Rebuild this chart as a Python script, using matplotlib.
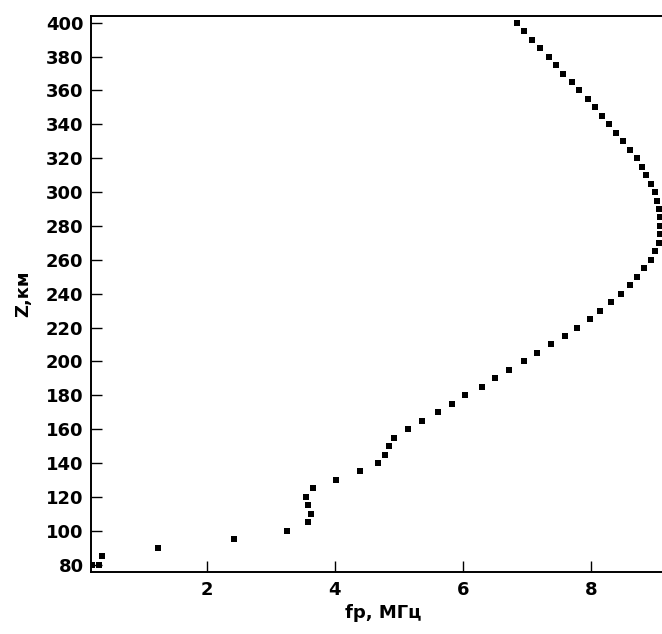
import matplotlib
matplotlib.use("Agg")
import matplotlib.pyplot as plt

# plasma frequency profile, one point every 5 km
heights = [80, 80, 85, 90, 95, 100, 105, 110, 115, 120, 125, 130, 135, 140,
           145, 150, 155, 160, 165, 170, 175, 180, 185, 190, 195, 200, 205,
           210, 215, 220, 225, 230, 235, 240, 245, 250, 255, 260, 265, 270,
           275, 280, 285, 290, 295, 300, 305, 310, 315, 320, 325, 330, 335,
           340, 345, 350, 355, 360, 365, 370, 375, 380, 385, 390, 395, 400]
fp = [0.20, 0.31, 0.37, 1.24, 2.43, 3.26, 3.59, 3.63, 3.59, 3.55, 3.66, 4.02,
      4.39, 4.67, 4.78, 4.85, 4.93, 5.14, 5.36, 5.61, 5.83, 6.04, 6.30, 6.51,
      6.73, 6.95, 7.16, 7.38, 7.60, 7.78, 7.99, 8.14, 8.32, 8.47, 8.61, 8.72,
      8.83, 8.94, 9.01, 9.07, 9.09, 9.09, 9.08, 9.07, 9.04, 9.01, 8.94, 8.86,
      8.80, 8.72, 8.61, 8.51, 8.40, 8.29, 8.18, 8.07, 7.96, 7.82, 7.71, 7.56,
      7.46, 7.35, 7.21, 7.09, 6.95, 6.85]

xticks = [2, 4, 6, 8]
yticks = list(range(80, 401, 20))

plt.rcParams['font.family'] = ['DejaVu Sans']
plt.rcParams['font.weight'] = 'bold'

fig = plt.figure(figsize=(6.62, 6.34), dpi=100)
W, H = 662.0, 634.0
# right edge sits past the figure, so the plot runs off the side
left, right, top, bottom = 90.5, 668.0, 16.0, 571.7
ax = fig.add_axes([left / W, 1 - bottom / H, (right - left) / W, (bottom - top) / H])

ax.plot(fp, heights, linestyle='none', marker='s', markersize=4.3,
        markeredgewidth=0, color='black')

ax.set_xlim(0.184, (right - 78.7) / 64.0)
ax.set_ylim(75.8, 404)
ax.set_xticks(xticks)
ax.set_yticks(yticks)
ax.tick_params(direction='in', length=8, width=1.0, labelsize=13, color='black')
ax.tick_params(axis='x', pad=7)
ax.tick_params(axis='y', pad=5)
for s in ax.spines.values():
    s.set_linewidth(1.4)
ax.spines['right'].set_visible(False)

ax.set_xlabel('fp, МГц', fontsize=13, fontweight='bold')
ax.set_ylabel('Z,км', fontsize=13, fontweight='bold')
ax.xaxis.set_label_coords((383 - left) / (right - left), (bottom - 604) / (bottom - top))
ax.yaxis.set_label_coords((32 - left) / (right - left), 0.5)

fig.savefig("out.png", dpi=100)
